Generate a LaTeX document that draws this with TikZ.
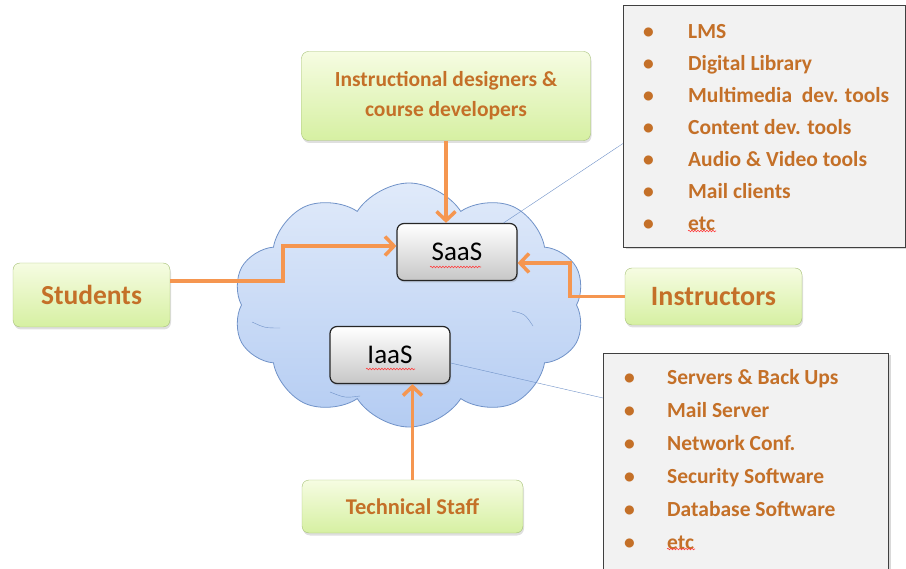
\documentclass[tikz,border=0pt]{standalone}
\usepackage{fontspec}
\setmainfont{Carlito}
\usetikzlibrary{shapes.symbols,shadows,arrows.meta,positioning,decorations.pathmorphing}
\definecolor{boxline}{RGB}{165,192,118}
\definecolor{boxtop}{RGB}{246,252,226}
\definecolor{boxbot}{RGB}{214,240,162}
\definecolor{labeltxt}{RGB}{196,112,40}
\definecolor{feedline}{RGB}{245,150,80}
\definecolor{cloudtop}{RGB}{224,234,250}
\definecolor{cloudbot}{RGB}{180,204,242}
\definecolor{cloudline}{RGB}{112,146,200}
\tikzset{
 actor/.style={draw=boxline, rounded corners=7pt, top color=boxtop, bottom color=boxbot,
   text=labeltxt, font=\bfseries, align=center,
   drop shadow={opacity=0.25,shadow xshift=1pt,shadow yshift=-2.5pt}},
 service/.style={draw=black!85, line width=1.2pt, rounded corners=7pt, top color=white,
   bottom color=black!22, font=\fontsize{27}{29}\selectfont,
   drop shadow={opacity=0.25,shadow xshift=1pt,shadow yshift=-2pt}},
 listbox/.style={draw=black!75, line width=1pt, fill=black!5, anchor=north west,
   drop shadow={opacity=0.3,shadow xshift=2pt,shadow yshift=-2pt}},
 itemlist/.style={anchor=north west, inner sep=0pt, align=left, text=labeltxt,
   font=\bfseries\fontsize{21.5}{32}\selectfont},
 feed/.style={draw=feedline, line width=3.5pt, -{Straight Barb[length=9pt,width=19pt]}},
 tether/.style={draw=cloudline, thin},
 crease/.style={draw=cloudline, thin},
 squiggle/.style={draw=red!75, line width=0.6pt, decorate,
   decoration={snake,amplitude=0.8pt,segment length=3pt}},
}
\newcommand{\bul}[1]{\makebox[#1][l]{\textbullet}}
\begin{document}
\begin{tikzpicture}[x=1pt,y=-1pt]
 \clip (0,0) rectangle (906,569);
 % cloud with the two services
 \node[cloud, cloud puffs=10, cloud puff arc=115, cloud ignores aspect,
   minimum width=352pt, minimum height=244pt, top color=cloudtop,
   bottom color=cloudbot, draw=cloudline, thick] (sky) at (409,305) {};
 \draw[crease] (252,322) .. controls (265,328) .. (280,328);
 \draw[crease] (330,392) .. controls (345,398) .. (360,396);
 \draw[crease] (512,311) .. controls (525,314) .. (533,326);
 \node[service, minimum width=120pt, minimum height=57pt] (saas) at (457,252) {SaaS};
 \node[service, minimum width=120pt, minimum height=57pt] (iaas) at (390,355) {IaaS};
 \draw[squiggle] (430,267) -- (481,267);
 \draw[squiggle] (366,369) -- (415,369);
 % user groups
 \node[actor, minimum width=289pt, minimum height=89pt, font=\bfseries\fontsize{21.5}{30}\selectfont]
   (designers) at (446,96) {Instructional designers \&\\course developers};
 \node[actor, minimum width=157pt, minimum height=64pt, font=\bfseries\fontsize{27.5}{30}\selectfont]
   (students) at (91.5,295) {Students};
 \node[actor, minimum width=177pt, minimum height=57pt, font=\bfseries\fontsize{28}{30}\selectfont]
   (instructors) at (713.5,296.5) {Instructors};
 \node[actor, minimum width=221pt, minimum height=53pt, font=\bfseries\fontsize{22.5}{24}\selectfont]
   (tech) at (412.5,506.5) {Technical Staff};
 % arrows into the services
 \draw[feed] (designers.south) -- (designers.south |- saas.north);
 \draw[feed] ([yshift=14pt]students.east) -| (283,263) |- ([yshift=6pt]saas.west);
 \draw[feed] (instructors.west) -| (570,280) |- ([yshift=-11pt]saas.east);
 \draw[feed] (tech.north) -- (tech.north |- iaas.south);
 % tool lists
 \node[listbox, minimum width=282pt, minimum height=242pt] (apps) at (623,5) {};
 \node[itemlist, below right=19pt and 20pt of apps.north west] (appslist)
   {\bul{45pt}LMS\\ \bul{45pt}Digital Library\\ \bul{45pt}Multimedia\ \ dev. tools\\
    \bul{45pt}Content dev. tools\\ \bul{45pt}Audio \& Video tools\\
    \bul{45pt}Mail clients\\ \bul{45pt}etc};
 \node[listbox, minimum width=285pt, minimum height=250pt] (infra) at (603,353) {};
 \node[itemlist, below right=16pt and 21pt of infra.north west, font=\bfseries\fontsize{21.5}{33}\selectfont]
   (infralist)
   {\bul{43pt}Servers \& Back Ups\\ \bul{43pt}Mail Server\\ \bul{43pt}Network Conf.\\
    \bul{43pt}Security Software\\ \bul{43pt}Database Software\\ \bul{43pt}etc};
 \draw[squiggle] (688,231) -- (716,231);
 \draw[squiggle] (667,549) -- (695,549);
 % tethers from services to lists
 \draw[tether] ([xshift=-14pt]saas.north east) -- ([yshift=-17pt]apps.west);
 \draw[tether] ([yshift=-8pt]iaas.east) -- (infra.west |- 0,398);
\end{tikzpicture}
\end{document}
